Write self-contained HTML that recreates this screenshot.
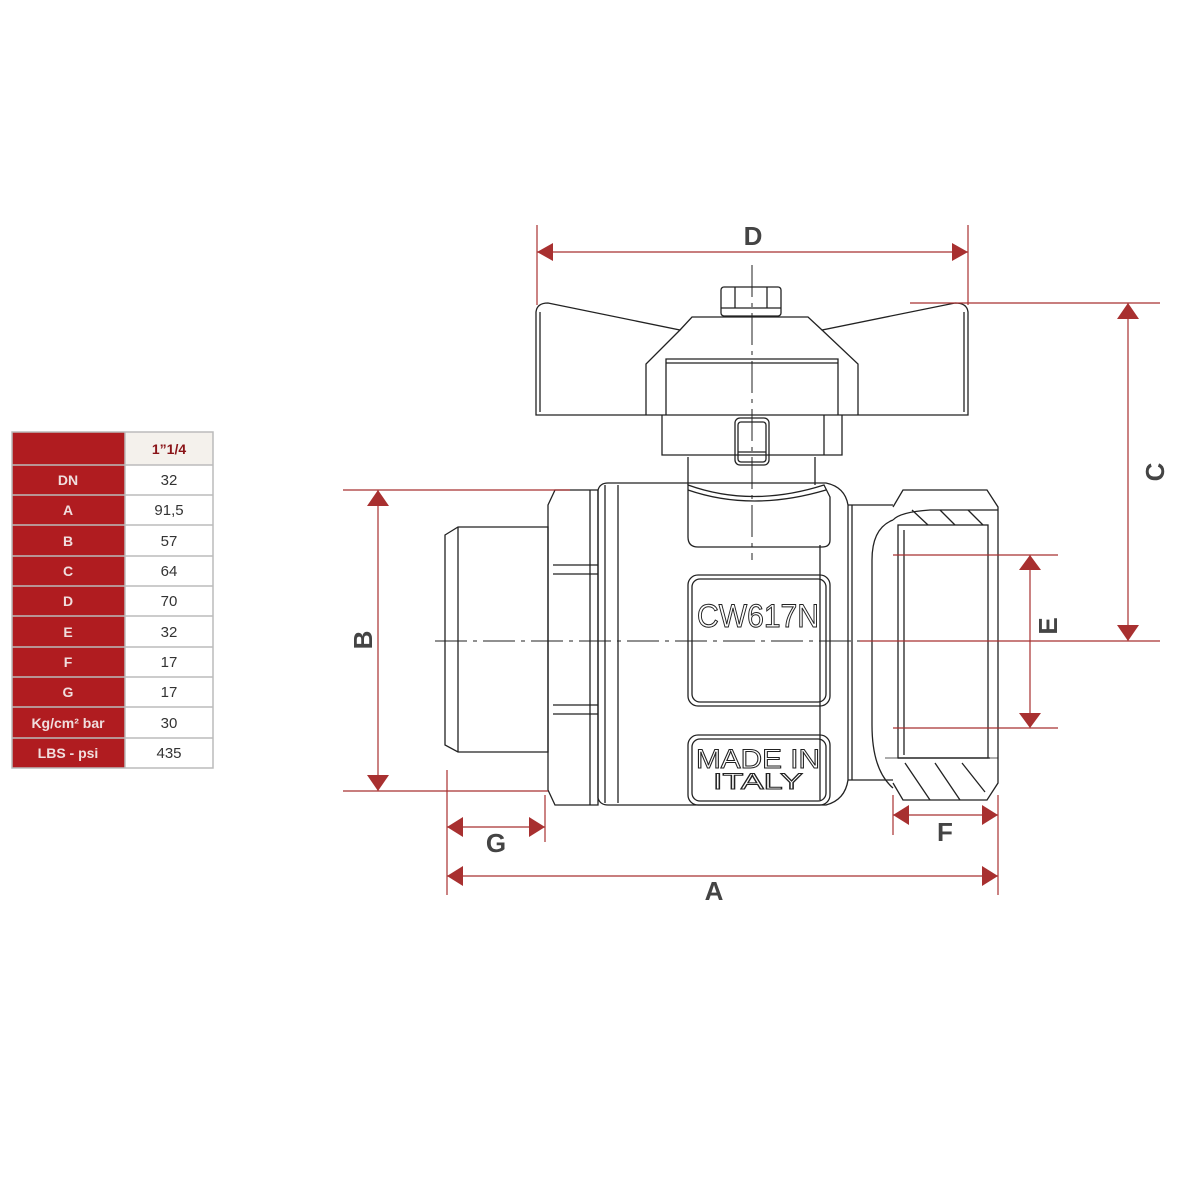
<!DOCTYPE html>
<html><head><meta charset="utf-8"><style>
html,body{margin:0;padding:0;background:#fff;width:1200px;height:1200px;overflow:hidden}
</style></head><body>
<svg width="1200" height="1200" viewBox="0 0 1200 1200" xmlns="http://www.w3.org/2000/svg" font-family="'Liberation Sans', sans-serif">
<!-- table -->
<g>
<rect x="12" y="432" width="113" height="336" fill="#b01c20"/>
<rect x="125" y="432" width="88" height="33" fill="#f4f1ec"/>
<g stroke="#bbb" stroke-width="1.5" fill="none">
<rect x="12" y="432" width="201" height="336"/>
<line x1="125" y1="432" x2="125" y2="768"/>
<line x1="12" y1="465" x2="213" y2="465"/><line x1="12" y1="495" x2="213" y2="495"/>
<line x1="12" y1="525" x2="213" y2="525"/><line x1="12" y1="556" x2="213" y2="556"/>
<line x1="12" y1="586" x2="213" y2="586"/><line x1="12" y1="616" x2="213" y2="616"/>
<line x1="12" y1="647" x2="213" y2="647"/><line x1="12" y1="677" x2="213" y2="677"/>
<line x1="12" y1="707" x2="213" y2="707"/><line x1="12" y1="738" x2="213" y2="738"/>
</g>
<text x="169" y="454" text-anchor="middle" font-size="14" font-weight="bold" fill="#8a1418">1”1/4</text>
<g font-size="14" font-weight="bold" fill="#f0dede" text-anchor="middle">
<text x="68" y="485">DN</text><text x="68" y="515">A</text><text x="68" y="546">B</text>
<text x="68" y="576">C</text><text x="68" y="606">D</text><text x="68" y="637">E</text>
<text x="68" y="667">F</text><text x="68" y="697">G</text><text x="68" y="728">Kg/cm² bar</text>
<text x="68" y="758">LBS - psi</text></g>
<g font-size="15" fill="#333" text-anchor="middle">
<text x="169" y="485">32</text><text x="169" y="515">91,5</text><text x="169" y="546">57</text>
<text x="169" y="576">64</text><text x="169" y="606">70</text><text x="169" y="637">32</text>
<text x="169" y="667">17</text><text x="169" y="697">17</text><text x="169" y="728">30</text>
<text x="169" y="758">435</text></g>
</g>

<!-- valve drawing -->
<g stroke="#222" stroke-width="1.3" fill="none">
<!-- handle wings -->
<path d="M536,415 L536,312 Q537,303 548,303 L680,330 L692,317 L808,317 L822,330 L955,303 Q967,303 968,312 L968,415 Z"/>
<path d="M646,415 L646,364 L680,330 M858,415 L858,364 L822,330"/>
<path d="M666,415 L666,359 L838,359 L838,415"/>
<line x1="666" y1="363" x2="838" y2="363"/>
<line x1="540" y1="312" x2="540" y2="412"/><line x1="964" y1="312" x2="964" y2="412"/>
<!-- nut -->
<rect x="721" y="287" width="60" height="29" rx="3"/>
<line x1="735" y1="287" x2="735" y2="308"/><line x1="767" y1="287" x2="767" y2="308"/>
<line x1="721" y1="308" x2="781" y2="308"/>
<!-- below handle -->
<path d="M662,415 L662,455 L842,455 L842,415"/>
<line x1="824" y1="415" x2="824" y2="455"/>
<rect x="735" y="418" width="34" height="47" rx="5"/>
<rect x="738" y="422" width="28" height="40" rx="3"/>
<line x1="738" y1="452" x2="766" y2="452"/>
<path d="M688,457 L688,485 M815,457 L815,485"/>
<!-- left male thread -->
<path d="M445,535 L458,527 L548,527 L548,752 L458,752 L445,745 Z"/>
<line x1="458" y1="527" x2="458" y2="752"/>
<!-- left hex -->
<path d="M548,505 L555,490 L598,490 L598,805 L555,805 L548,790 Z"/>
<line x1="553" y1="565" x2="598" y2="565"/><line x1="553" y1="574" x2="598" y2="574"/>
<line x1="553" y1="705" x2="598" y2="705"/><line x1="553" y1="714" x2="598" y2="714"/>
<line x1="590" y1="490" x2="590" y2="805"/>
<!-- body -->
<path d="M598,490 Q600,483 608,483 L826,483 Q845,487 848,505 L848,780 Q845,800 826,805 L608,805 Q600,805 598,798 Z"/>
<line x1="605" y1="485" x2="605" y2="803"/><line x1="618" y1="485" x2="618" y2="803"/>
<line x1="820" y1="545" x2="820" y2="800"/>
<!-- recesses -->
<path d="M688,485 Q752,508 824,485 L830,497 L830,540 Q830,547 822,547 L698,547 Q688,547 688,537 Z"/>
<path d="M688,490 Q752,512 826,490"/>
<rect x="688" y="575" width="142" height="131" rx="10"/>
<rect x="692" y="579" width="134" height="123" rx="8"/>
<rect x="688" y="735" width="142" height="70" rx="10"/>
<rect x="692" y="739" width="134" height="62" rx="8"/>
<!-- right neck -->
<path d="M848,505 L893,505 M848,780 L893,780"/>
<line x1="852" y1="505" x2="852" y2="780"/>
<!-- right nut -->
<path d="M893,507 L903,490 L987,490 L998,507 L998,783 L987,800 L903,800 L893,783"/>
<path d="M893,520 Q872,528 872,560 L872,725 Q872,770 893,788"/>
<path d="M893,520 Q900,512 930,510 L998,510"/>
<rect x="898" y="525" width="90" height="233"/>
<line x1="904" y1="530" x2="904" y2="755"/>
<line x1="898" y1="758" x2="990" y2="758"/>
<line x1="885" y1="758" x2="998" y2="758" stroke-width="0.8"/>
<!-- hatch -->
<path d="M912,510 L928,525 M940,510 L955,525 M968,510 L983,525"/>
<path d="M905,763 L930,800 M935,763 L960,800 M962,763 L985,792"/>
<!-- centerlines -->
<g stroke-width="1" stroke-dasharray="32,6,4,6">
<line x1="752" y1="265" x2="752" y2="560"/>
<line x1="435" y1="641" x2="1000" y2="641"/>
</g>
</g>
<!-- text on body -->
<text x="758" y="627" text-anchor="middle" font-size="32" fill="#fff" stroke="#222" stroke-width="1" textLength="122" lengthAdjust="spacingAndGlyphs">CW617N</text>
<text x="758" y="768" text-anchor="middle" font-size="27" fill="#fff" stroke="#222" stroke-width="1" textLength="124" lengthAdjust="spacingAndGlyphs">MADE IN</text>
<text x="758" y="789" text-anchor="middle" font-size="22" fill="#fff" stroke="#222" stroke-width="1" textLength="90" lengthAdjust="spacingAndGlyphs">ITALY</text>

<!-- dimensions -->
<g stroke="#a83030" stroke-width="1.2" fill="none">
<line x1="537" y1="225" x2="537" y2="305"/><line x1="968" y1="225" x2="968" y2="305"/>
<line x1="537" y1="252" x2="968" y2="252"/>
<line x1="910" y1="303" x2="1160" y2="303"/><line x1="860" y1="641" x2="1160" y2="641"/>
<line x1="1128" y1="303" x2="1128" y2="641"/>
<line x1="343" y1="490" x2="570" y2="490"/><line x1="343" y1="791" x2="548" y2="791"/>
<line x1="378" y1="490" x2="378" y2="791"/>
<line x1="893" y1="555" x2="1058" y2="555"/><line x1="893" y1="728" x2="1058" y2="728"/>
<line x1="1030" y1="555" x2="1030" y2="728"/>
<line x1="447" y1="770" x2="447" y2="895"/><line x1="998" y1="795" x2="998" y2="895"/>
<line x1="545" y1="795" x2="545" y2="842"/><line x1="893" y1="795" x2="893" y2="835"/>
<line x1="447" y1="827" x2="545" y2="827"/>
<line x1="893" y1="815" x2="998" y2="815"/>
<line x1="447" y1="876" x2="998" y2="876"/>
</g>
<g fill="#a83030">
<path d="M537,252 l16,-9 v18 z"/><path d="M968,252 l-16,-9 v18 z"/>
<path d="M1128,303 l-11,16 h22 z"/><path d="M1128,641 l-11,-16 h22 z"/>
<path d="M378,490 l-11,16 h22 z"/><path d="M378,791 l-11,-16 h22 z"/>
<path d="M1030,555 l-11,15 h22 z"/><path d="M1030,728 l-11,-15 h22 z"/>
<path d="M447,827 l16,-10 v20 z"/><path d="M545,827 l-16,-10 v20 z"/>
<path d="M893,815 l16,-10 v20 z"/><path d="M998,815 l-16,-10 v20 z"/>
<path d="M447,876 l16,-10 v20 z"/><path d="M998,876 l-16,-10 v20 z"/>
</g>
<g font-size="26" font-weight="bold" fill="#444" text-anchor="middle">
<text x="753" y="245">D</text>
<text x="714" y="900">A</text>
<text x="496" y="852">G</text>
<text x="945" y="841">F</text>
<text transform="translate(1164,472) rotate(-90)">C</text>
<text transform="translate(372,640) rotate(-90)">B</text>
<text transform="translate(1057,626) rotate(-90)">E</text>
</g>
</svg>
</body></html>
